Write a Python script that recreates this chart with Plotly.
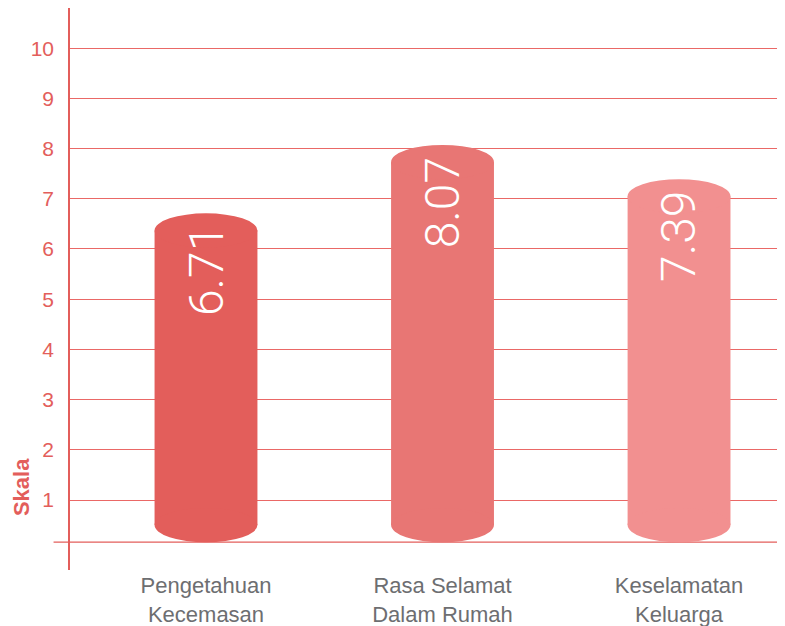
import plotly.graph_objects as go

categories = ["Pengetahuan<br>Kecemasan", "Rasa Selamat<br>Dalam Rumah", "Keselamatan<br>Keluarga"]
values = [6.71, 8.07, 7.39]
value_labels = ["6.71", "8.07", "7.39"]
bar_colors = ["#E35E5B", "#E87674", "#F29090"]
y_ticks = [1, 2, 3, 4, 5, 6, 7, 8, 9, 10]

RED = "#E35E5B"
GRID = "#EA6866"
base_val = 0.16      # baseline of the cylinders
cap_r = 0.34         # vertical radius of the elliptical caps (data units)
bar_w = 0.435
label_drop = 1.15

xs = list(range(len(categories)))

fig = go.Figure()
fig.add_trace(go.Bar(
    x=xs,
    y=[v - cap_r - (base_val + cap_r) for v in values],
    base=[base_val + cap_r] * len(values),
    width=bar_w,
    marker=dict(color=bar_colors, line=dict(width=0)),
    hoverinfo="skip",
))

shapes = []
shapes.append(dict(type="line", xref="paper", yref="y", x0=-0.023, x1=1,
                   y0=base_val, y1=base_val, line=dict(color=RED, width=1.2), layer="below"))
for i, v in enumerate(values):
    shapes.append(dict(type="circle", xref="x", yref="y",
                       x0=i - bar_w / 2, x1=i + bar_w / 2, y0=v - 2 * cap_r, y1=v,
                       fillcolor=bar_colors[i], line=dict(width=0), layer="above"))
    shapes.append(dict(type="circle", xref="x", yref="y",
                       x0=i - bar_w / 2, x1=i + bar_w / 2, y0=base_val, y1=base_val + 2 * cap_r,
                       fillcolor=bar_colors[i], line=dict(width=0), layer="above"))

annotations = []
for i, v in enumerate(values):
    annotations.append(dict(x=i, y=v - label_drop, xref="x", yref="y", text=value_labels[i],
                            showarrow=False, textangle=-90,
                            font=dict(family="Roboto, Liberation Sans, Arial", size=48,
                                      color="white", weight=300)))
annotations.append(dict(x=-0.067, y=1.26, xref="paper", yref="y", text="<b>Skala</b>",
                        showarrow=False, textangle=-90, xanchor="center", yanchor="middle",
                        font=dict(family="Liberation Sans, Arial", size=22, color=RED)))

fig.update_layout(
    width=777, height=618,
    margin=dict(l=62, r=0, t=0, b=56),
    paper_bgcolor="white", plot_bgcolor="white",
    showlegend=False,
    shapes=shapes,
    annotations=annotations,
    xaxis=dict(range=[-0.575, 2.448], tickvals=xs, ticktext=categories,
               showgrid=False, zeroline=False, showline=False, ticks="",
               tickfont=dict(family="Liberation Sans, Arial", size=22, color="#6D6E71"),
               fixedrange=True),
    yaxis=dict(range=[-0.394, 10.80], tickvals=y_ticks, ticktext=[str(t) for t in y_ticks],
               showgrid=True, gridcolor=GRID, gridwidth=1, zeroline=False,
               showline=True, linecolor=RED, linewidth=1.5, ticks="",
               ticklabelstandoff=10,
               tickfont=dict(family="Liberation Sans, Arial", size=21, color=RED),
               fixedrange=True),
)

fig.write_html("out.html")
